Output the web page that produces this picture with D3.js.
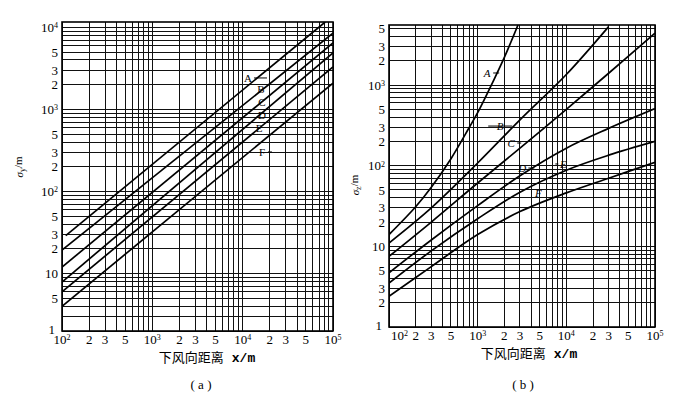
<!DOCTYPE html>
<html>
<head>
<meta charset="utf-8">
<script src="https://cdn.jsdelivr.net/npm/d3@7"></script>
<style>
  body { margin: 0; background: #fff; }
  svg { display: block; }
</style>
</head>
<body>
<div id="chart"></div>
<script>
// downwind distance ticks (shared by both panels)
const xTicks = [100, 200, 300, 500, 1000, 2000, 3000, 5000, 10000, 20000, 30000, 50000, 100000];
const xTickLabels = ["10^2", "2", "3", "5", "10^3", "2", "3", "5", "10^4", "2", "3", "5", "10^5"];

// (a) sigma-y ticks; the bottom edge is printed as "1" on the original
const yTicksA = [2, 5, 10, 20, 30, 50, 100, 200, 300, 500, 1000, 2000, 3000, 5000, 10000];
const yTickLabelsA = ["1", "5", "10", "2", "3", "5", "10^2", "2", "3", "5", "10^3", "2", "3", "5", "10^4"];

// (b) sigma-z ticks
const yTicksB = [1, 2, 3, 5, 10, 20, 30, 50, 100, 200, 300, 500, 1000, 2000, 3000, 5000];
const yTickLabelsB = ["1", "2", "3", "5", "10", "2", "3", "5", "10^2", "2", "3", "5", "10^3", "2", "3", "5"];

const classes = ["A", "B", "C", "D", "E", "F"];

// sigma-y [x (m), sigma (m)]
const sigmaY_A = [[110, 29], [82000, 11600]];
const sigmaY_B = [[100, 19.4], [100000, 8500]];
const sigmaY_C = [[100, 12], [100000, 6450]];
const sigmaY_D = [[100, 7.9], [100000, 4870]];
const sigmaY_E = [[100, 6], [100000, 3290]];
const sigmaY_F = [[100, 4], [100000, 2090]];

// sigma-z [x (m), sigma (m)]
const sigmaZ_A = [[100, 14], [200, 31], [300, 54], [500, 122], [800, 295], [1000, 455], [1500, 1120], [2000, 2200], [2850, 5550]];
const sigmaZ_B = [[100, 11], [300, 30], [1000, 108], [3000, 370], [10000, 1350], [30000, 5300]];
const sigmaZ_C = [[100, 7.5], [300, 20], [1000, 61], [3000, 165], [10000, 500], [30000, 1400], [100000, 4400]];
const sigmaZ_D = [[100, 4.7], [300, 12], [1000, 32], [3000, 75], [10000, 165], [30000, 290], [100000, 510]];
const sigmaZ_E = [[100, 3.5], [300, 8.8], [1000, 22], [3000, 47], [10000, 88], [30000, 135], [100000, 200]];
const sigmaZ_F = [[100, 2.4], [300, 5.6], [1000, 14], [3000, 27], [10000, 46], [30000, 70], [100000, 110]];

// class label anchors [x (m), sigma (m)]
const labelPosA = [[11450, 2415], [15950, 1775], [16360, 1230], [16360, 855], [15170, 594], [16360, 303]];
const labelPosB = [[1280, 1410], [1796, 310], [2390, 191], [3190, 93.5], [9250, 105], [4830, 45.8]];

const W = 677, H = 397;
const serif = "'Liberation Serif', 'DejaVu Serif', serif";
const cjk = "'Noto Sans CJK SC', sans-serif";

const svg = d3.select("#chart").append("svg")
  .attr("width", W)
  .attr("height", H);

svg.append("rect").attr("width", W).attr("height", H).attr("fill", "#fff");

function writeTick(sel, str) {
  const parts = str.split("^");
  sel.text(parts[0]);
  if (parts.length > 1) {
    sel.append("tspan")
      .attr("dy", "-0.45em")
      .style("font-size", "8px")
      .text(parts[1]);
  }
}

function gridValues(lo, hi) {
  const out = [];
  for (let k = -1; k <= 6; k++) {
    for (let m = 1; m <= 9; m++) {
      const v = m * Math.pow(10, k);
      if (v >= lo * 0.999 && v <= hi * 1.001) out.push(v);
    }
  }
  return out;
}

function drawPanel(p) {
  const g = svg.append("g");

  const x = d3.scaleLog()
    .domain([100, 100000])
    .range([p.left, p.right]);

  const y = d3.scaleLog()
    .domain(p.yDomain)
    .range([p.bottom, p.top]);

  // log grid
  g.append("g")
    .selectAll("line")
    .data(gridValues(100, 100000))
    .join("line")
    .attr("x1", d => x(d)).attr("x2", d => x(d))
    .attr("y1", p.top).attr("y2", p.bottom)
    .attr("stroke", "#111")
    .attr("stroke-width", 1)
    .attr("shape-rendering", "crispEdges");

  g.append("g")
    .selectAll("line")
    .data(gridValues(p.yDomain[0], p.yDomain[1]))
    .join("line")
    .attr("x1", p.left).attr("x2", p.right)
    .attr("y1", d => y(d)).attr("y2", d => y(d))
    .attr("stroke", "#111")
    .attr("stroke-width", 1)
    .attr("shape-rendering", "crispEdges");

  // frame
  g.append("rect")
    .attr("x", p.left).attr("y", p.top)
    .attr("width", p.right - p.left)
    .attr("height", p.bottom - p.top)
    .attr("fill", "none")
    .attr("stroke", "#000")
    .attr("stroke-width", 1.6);

  // curves
  const clipId = "clip-" + p.id;
  svg.append("clipPath").attr("id", clipId)
    .append("rect")
    .attr("x", p.left).attr("y", p.top)
    .attr("width", p.right - p.left)
    .attr("height", p.bottom - p.top);

  const line = d3.line()
    .x(d => x(d[0]))
    .y(d => y(d[1]))
    .curve(d3.curveCatmullRom.alpha(0.5));

  g.append("g")
    .attr("clip-path", `url(#${clipId})`)
    .selectAll("path")
    .data(p.series)
    .join("path")
    .attr("fill", "none")
    .attr("stroke", "#000")
    .attr("stroke-width", 1.7)
    .attr("d", line);

  // tick labels
  g.append("g")
    .selectAll("text")
    .data(xTicks)
    .join("text")
    .attr("x", d => x(d))
    .attr("y", p.bottom + 13)
    .attr("text-anchor", (d, i) => (i === 0 && p.firstXStart) ? "start" : "middle")
    .attr("dx", (d, i) => (i === 0 && p.firstXStart) ? 2 : 0)
    .style("font-family", serif)
    .style("font-size", "13px")
    .each(function(d, i) { writeTick(d3.select(this), xTickLabels[i]); });

  g.append("g")
    .selectAll("text")
    .data(p.yTicks)
    .join("text")
    .attr("x", (d, i) => p.left - (i === 0 ? 7 : 4))
    .attr("y", (d, i) => y(d) - (i === 0 ? 2 : 0))
    .attr("dy", "0.35em")
    .attr("text-anchor", "end")
    .style("font-family", serif)
    .style("font-size", "13px")
    .each(function(d, i) { writeTick(d3.select(this), p.yTickLabels[i]); });

  // class labels with their short leader dashes
  const lab = g.append("g")
    .selectAll("g")
    .data(p.labels.map((d, i) => ({ pos: d, name: classes[i], lead: p.leaders[i] })))
    .join("g")
    .attr("transform", d => `translate(${x(d.pos[0])},${y(d.pos[1])})`);

  lab.append("text")
    .attr("text-anchor", "middle")
    .attr("dy", "0.35em")
    .style("font-family", serif)
    .style("font-size", "11px")
    .style("font-style", p.italic ? "italic" : "normal")
    .text(d => d.name);

  lab.filter(d => d.lead)
    .append("line")
    .attr("x1", d => d.lead[0])
    .attr("x2", d => d.lead[1])
    .attr("y1", 0).attr("y2", 0)
    .attr("stroke", "#000")
    .attr("stroke-width", 1);

  // axis titles
  const yt = svg.append("text")
    .attr("transform", `translate(${p.yTitleX},${p.yTitleY}) rotate(-90)`)
    .attr("text-anchor", "middle")
    .style("font-family", serif)
    .style("font-size", "11px");
  yt.append("tspan").style("font-style", "italic").text("σ");
  yt.append("tspan").attr("dy", "0.3em").style("font-size", "8px").text(p.sub);
  yt.append("tspan").attr("dy", "-0.3em").text("/m");

  const xt = svg.append("text")
    .attr("x", p.titleX)
    .attr("y", p.bottom + 31)
    .attr("text-anchor", "middle")
    .style("font-size", "13px");
  xt.append("tspan").style("font-family", cjk).text("下风向距离");
  xt.append("tspan").attr("dx", 8)
    .style("font-family", "'Liberation Mono', monospace")
    .style("font-weight", "bold")
    .text("x/m");

  svg.append("text")
    .attr("x", p.titleX - 6)
    .attr("y", 389)
    .attr("text-anchor", "middle")
    .style("font-family", serif)
    .style("font-size", "13px")
    .text(p.caption);
}

drawPanel({
  id: "a",
  left: 62, right: 333, top: 22, bottom: 331,
  yDomain: [2, 11600],
  yTicks: yTicksA, yTickLabels: yTickLabelsA,
  series: [sigmaY_A, sigmaY_B, sigmaY_C, sigmaY_D, sigmaY_E, sigmaY_F],
  labels: labelPosA,
  leaders: [[6, 19], null, null, null, null, [6, 10]],
  italic: false,
  firstXStart: false,
  sub: "y",
  yTitleX: 23, yTitleY: 167,
  titleX: 207,
  caption: "( a )"
});

drawPanel({
  id: "b",
  left: 389, right: 655, top: 25, bottom: 327,
  yDomain: [1, 5550],
  yTicks: yTicksB, yTickLabels: yTickLabelsB,
  series: [sigmaZ_A, sigmaZ_B, sigmaZ_C, sigmaZ_D, sigmaZ_E, sigmaZ_F],
  labels: labelPosB,
  leaders: [[6, 12], [-12, 12], [6, 10], [6, 12], [-8, -5], null],
  italic: true,
  firstXStart: true,
  sub: "z",
  yTitleX: 359, yTitleY: 185,
  titleX: 529,
  caption: "( b )"
});
</script>
</body>
</html>
